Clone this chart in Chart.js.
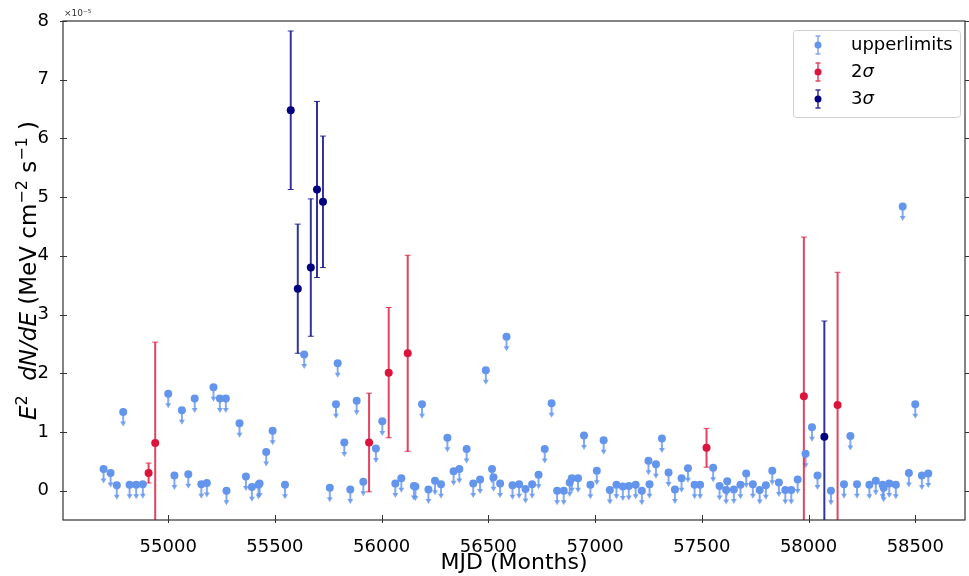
<!DOCTYPE html>
<html>
<head>
<meta charset="utf-8">
<script src="https://cdn.jsdelivr.net/npm/chart.js@4.4.1/dist/chart.umd.min.js"></script>
<style>
  html, body { margin: 0; padding: 0; background: #fff; }
  #wrap { width: 969px; height: 576px; position: relative; }
</style>
</head>
<body>
<div id="wrap"><canvas id="grafico" width="969" height="576"></canvas></div>
<script>
// light curve, flux in units of 1e-5 MeV cm^-2 s^-1
const ulMjd = [54697, 54730, 54759, 54789, 54819, 54850, 54881, 55000, 55029, 55064,
  55094, 55124, 55155, 55181, 55212, 55242, 55270, 55273, 55334, 55364,
  55392, 55423, 55428, 55459, 55489, 55547, 55637, 55757, 55786, 55794,
  55825, 55853, 55883, 55914, 55973, 56003, 56064, 56092, 56151, 56158,
  56189, 56219, 56250, 56278, 56308, 56337, 56364, 56398, 56429, 56461,
  56488, 56517, 56524, 56555, 56585, 56613, 56644, 56674, 56705, 56735,
  56764, 56796, 56822, 56853, 56881, 56891, 56920, 56948, 56978, 57008,
  57040, 57069, 57100, 57130, 57158, 57190, 57219, 57250, 57255, 57285,
  57313, 57344, 57374, 57405, 57435, 57466, 57492, 57553, 57583, 57614,
  57619, 57650, 57681, 57708, 57739, 57771, 57800, 57830, 57861, 57891,
  57919, 57949, 57986, 58016, 58042, 58105, 58166, 58196, 58227, 58285,
  58315, 58347, 58352, 58378, 58409, 58441, 58470, 58500, 58531, 58561];
const ulFlux = [0.37, 0.30, 0.09, 1.34, 0.10, 0.10, 0.11, 1.65, 0.26, 1.37,
  0.28, 1.57, 0.11, 0.13, 1.76, 1.57, 1.57, 0.00, 1.15, 0.24,
  0.06, 0.10, 0.12, 0.66, 1.02, 0.10, 2.32, 0.05, 1.47, 2.17,
  0.82, 0.02, 1.53, 0.15, 0.72, 1.18, 0.12, 0.21, 0.08, 0.07,
  1.47, 0.02, 0.17, 0.11, 0.90, 0.33, 0.37, 0.71, 0.12, 0.19,
  2.05, 0.37, 0.23, 0.12, 2.62, 0.09, 0.11, 0.03, 0.11, 0.27,
  0.71, 1.49, 0.00, 0.00, 0.14, 0.21, 0.21, 0.94, 0.10, 0.34,
  0.86, 0.01, 0.10, 0.07, 0.08, 0.10, 0.00, 0.51, 0.11, 0.45,
  0.89, 0.31, 0.02, 0.21, 0.38, 0.10, 0.10, 0.39, 0.08, 0.01,
  0.16, 0.02, 0.10, 0.29, 0.11, 0.01, 0.09, 0.34, 0.14, 0.01,
  0.01, 0.19, 0.63, 1.08, 0.26, 0.00, 0.11, 0.93, 0.11, 0.10,
  0.17, 0.10, 0.05, 0.12, 0.10, 4.84, 0.30, 1.47, 0.26, 0.29];

const sig2Mjd = [54908, 54939, 55941, 56033, 56122, 57522, 57978, 58136];
const sig2Flux = [0.30, 0.81, 0.82, 2.01, 2.34, 0.73, 1.61, 1.46];
const sig2Err = [0.17, 1.72, 0.84, 1.11, 1.67, 0.33, 2.71, 2.26];

const sig3Mjd = [55574, 55607, 55668, 55697, 55725, 58074];
const sig3Flux = [6.48, 3.44, 3.80, 5.13, 4.92, 0.92];
const sig3Err = [1.35, 1.10, 1.17, 1.50, 1.12, 1.97];

const xTicks = [55000, 55500, 56000, 56500, 57000, 57500, 58000, 58500];
const yTicks = [0, 1, 2, 3, 4, 5, 6, 7, 8];

const colUL = "#6495ED";
const colS2 = "#DC143C";
const colS3 = "#000080";
const flecha = 0.23; // largo de la flecha de limite superior

const fuente = "'DejaVu Sans', sans-serif";

function puntos(xs, ys) {
    return xs.map((x, i) => ({ x: x, y: ys[i] }));
}

const conjuntos = [
    { label: "upperlimits", data: puntos(ulMjd, ulFlux), backgroundColor: colUL, borderColor: colUL,
      pointRadius: 4, pointHoverRadius: 4, borderWidth: 0, uplim: true },
    { label: "2\u03C3", data: puntos(sig2Mjd, sig2Flux), backgroundColor: colS2, borderColor: colS2,
      pointRadius: 4, pointHoverRadius: 4, borderWidth: 0, yerr: sig2Err },
    { label: "3\u03C3", data: puntos(sig3Mjd, sig3Flux), backgroundColor: colS3, borderColor: colS3,
      pointRadius: 4, pointHoverRadius: 4, borderWidth: 0, yerr: sig3Err }
];

function conAlfa(hex, a) {
    const r = parseInt(hex.slice(1, 3), 16), g = parseInt(hex.slice(3, 5), 16), b = parseInt(hex.slice(5, 7), 16);
    return `rgba(${r},${g},${b},${a})`;
}

// titulo del eje y con cursivas y superindices
const tituloY = [
    { t: "E", f: "italic 23px", dy: 0 },
    { t: "2", f: "16px", dy: -9 },
    { t: "  ", f: "23px", dy: 0 },
    { t: "dN/dE", f: "italic 23px", dy: 0 },
    { t: " (MeV cm", f: "23px", dy: 0 },
    { t: "\u22122", f: "16px", dy: -9 },
    { t: " s", f: "23px", dy: 0 },
    { t: "\u22121", f: "16px", dy: -9 },
    { t: " )", f: "23px", dy: 0 }
];

const barrasError = {
    id: "barrasError",
    beforeDatasetsDraw(chart) {
        const ctx = chart.ctx;
        const xs = chart.scales.x, ys = chart.scales.y;
        const area = chart.chartArea;
        ctx.save();
        ctx.beginPath();
        ctx.rect(area.left, area.top, area.right - area.left, area.bottom - area.top);
        ctx.clip();
        chart.data.datasets.forEach(ds => {
            const c = conAlfa(ds.borderColor, 0.8);
            ctx.strokeStyle = c;
            ctx.fillStyle = c;
            ds.data.forEach((p, i) => {
                const px = xs.getPixelForValue(p.x);
                const py = ys.getPixelForValue(p.y);
                if (ds.uplim) {
                    const pe = ys.getPixelForValue(p.y - flecha);
                    ctx.lineWidth = 2;
                    ctx.beginPath();
                    ctx.moveTo(px, py);
                    ctx.lineTo(px, pe - 2);
                    ctx.stroke();
                    ctx.beginPath();
                    ctx.moveTo(px - 3, pe - 4);
                    ctx.lineTo(px + 3, pe - 4);
                    ctx.lineTo(px, pe + 1);
                    ctx.closePath();
                    ctx.fill();
                } else {
                    const e = ds.yerr[i];
                    const p1 = ys.getPixelForValue(p.y + e);
                    const p2 = ys.getPixelForValue(p.y - e);
                    ctx.lineWidth = 2;
                    ctx.beginPath();
                    ctx.moveTo(px, p1);
                    ctx.lineTo(px, p2);
                    ctx.stroke();
                    ctx.lineWidth = 1;
                    ctx.beginPath();
                    ctx.moveTo(px - 3, p1);
                    ctx.lineTo(px + 3, p1);
                    ctx.moveTo(px - 3, p2);
                    ctx.lineTo(px + 3, p2);
                    ctx.stroke();
                }
            });
        });
        ctx.restore();
    },
    afterDraw(chart) {
        const ctx = chart.ctx;
        const xs = chart.scales.x, ys = chart.scales.y;
        const a = chart.chartArea;
        ctx.save();
        // marco
        ctx.strokeStyle = "#333";
        ctx.lineWidth = 1.2;
        ctx.strokeRect(a.left, a.top, a.right - a.left, a.bottom - a.top);
        // marcas de los ejes
        ctx.lineWidth = 1;
        ctx.beginPath();
        xTicks.forEach(v => {
            const px = Math.round(xs.getPixelForValue(v)) + 0.5;
            ctx.moveTo(px, a.bottom - 5);
            ctx.lineTo(px, a.bottom + 3);
        });
        yTicks.forEach(v => {
            const py = Math.round(ys.getPixelForValue(v)) + 0.5;
            ctx.moveTo(a.left - 3, py);
            ctx.lineTo(a.left + 4, py);
            ctx.moveTo(a.right, py);
            ctx.lineTo(a.right + 5, py);
        });
        ctx.stroke();
        // factor de escala
        ctx.fillStyle = "#333";
        ctx.font = "9px " + fuente;
        ctx.textBaseline = "bottom";
        ctx.fillText("\u00D710\u207B\u2075", a.left + 1, a.top - 3);

        // titulo eje y
        ctx.fillStyle = "#000";
        ctx.textBaseline = "alphabetic";
        ctx.textAlign = "left";
        let total = 0;
        tituloY.forEach(s => { ctx.font = s.f + " " + fuente; total += ctx.measureText(s.t).width; });
        ctx.save();
        ctx.translate(36, (a.top + a.bottom) / 2 + total / 2);
        ctx.rotate(-Math.PI / 2);
        let cx = 0;
        tituloY.forEach(s => {
            ctx.font = s.f + " " + fuente;
            ctx.fillText(s.t, cx, s.dy);
            cx += ctx.measureText(s.t).width;
        });
        ctx.restore();

        // leyenda
        const lx = 793, ly = 30, lw = 167, lh = 87;
        ctx.fillStyle = "rgba(255,255,255,0.8)";
        ctx.strokeStyle = "#d0d0d0";
        ctx.lineWidth = 1;
        ctx.beginPath();
        ctx.roundRect(lx + 0.5, ly + 0.5, lw, lh, 3);
        ctx.fill();
        ctx.stroke();
        const filas = [45, 72, 99];
        chart.data.datasets.forEach((ds, i) => {
            const cx = 818, cy = filas[i];
            ctx.strokeStyle = conAlfa(ds.borderColor, 0.8);
            ctx.lineWidth = 1.5;
            ctx.beginPath();
            ctx.moveTo(cx, cy - 9);
            ctx.lineTo(cx, cy + 9);
            ctx.moveTo(cx - 2.5, cy - 9);
            ctx.lineTo(cx + 2.5, cy - 9);
            ctx.moveTo(cx - 2.5, cy + 9);
            ctx.lineTo(cx + 2.5, cy + 9);
            ctx.stroke();
            ctx.fillStyle = ds.backgroundColor;
            ctx.beginPath();
            ctx.arc(cx, cy, 3.5, 0, Math.PI * 2);
            ctx.fill();
            ctx.fillStyle = "#000";
            ctx.textBaseline = "middle";
            ctx.textAlign = "left";
            if (i === 0) {
                ctx.font = "18px " + fuente;
                ctx.fillText(ds.label, 851, cy);
            } else {
                ctx.font = "18px " + fuente;
                ctx.fillText(ds.label.charAt(0), 851, cy);
                const w = ctx.measureText(ds.label.charAt(0)).width;
                ctx.font = "italic 18px " + fuente;
                ctx.fillText(ds.label.slice(1), 851 + w, cy);
            }
        });
        ctx.restore();
    }
};

new Chart(document.getElementById("grafico").getContext("2d"), {
    type: "scatter",
    data: { datasets: conjuntos },
    options: {
        responsive: false,
        animation: false,
        layout: { padding: { top: 21, right: 4, left: 0, bottom: 0 } },
        plugins: {
            legend: { display: false },
            tooltip: { enabled: false }
        },
        scales: {
            x: {
                type: "linear",
                min: 54507,
                max: 58733,
                afterFit: s => { s.height = 56; },
                afterBuildTicks: s => { s.ticks = xTicks.map(v => ({ value: v })); },
                grid: { display: false },
                border: { display: false },
                ticks: { color: "#000", padding: 9, maxRotation: 0, autoSkip: false,
                         font: { family: fuente, size: 18 }, callback: v => String(v) },
                title: { display: true, text: "MJD (Months)", color: "#000",
                         font: { family: fuente, size: 22 }, padding: { top: 0, bottom: 0 } }
            },
            y: {
                type: "linear",
                min: -0.5,
                max: 8,
                afterFit: s => { s.width = 63; },
                afterBuildTicks: s => { s.ticks = yTicks.map(v => ({ value: v })); },
                grid: { display: false },
                border: { display: false },
                ticks: { color: "#000", padding: 6, autoSkip: false,
                         font: { family: fuente, size: 18 }, callback: v => String(v) }
            }
        }
    },
    plugins: [barrasError]
});
</script>
</body>
</html>
